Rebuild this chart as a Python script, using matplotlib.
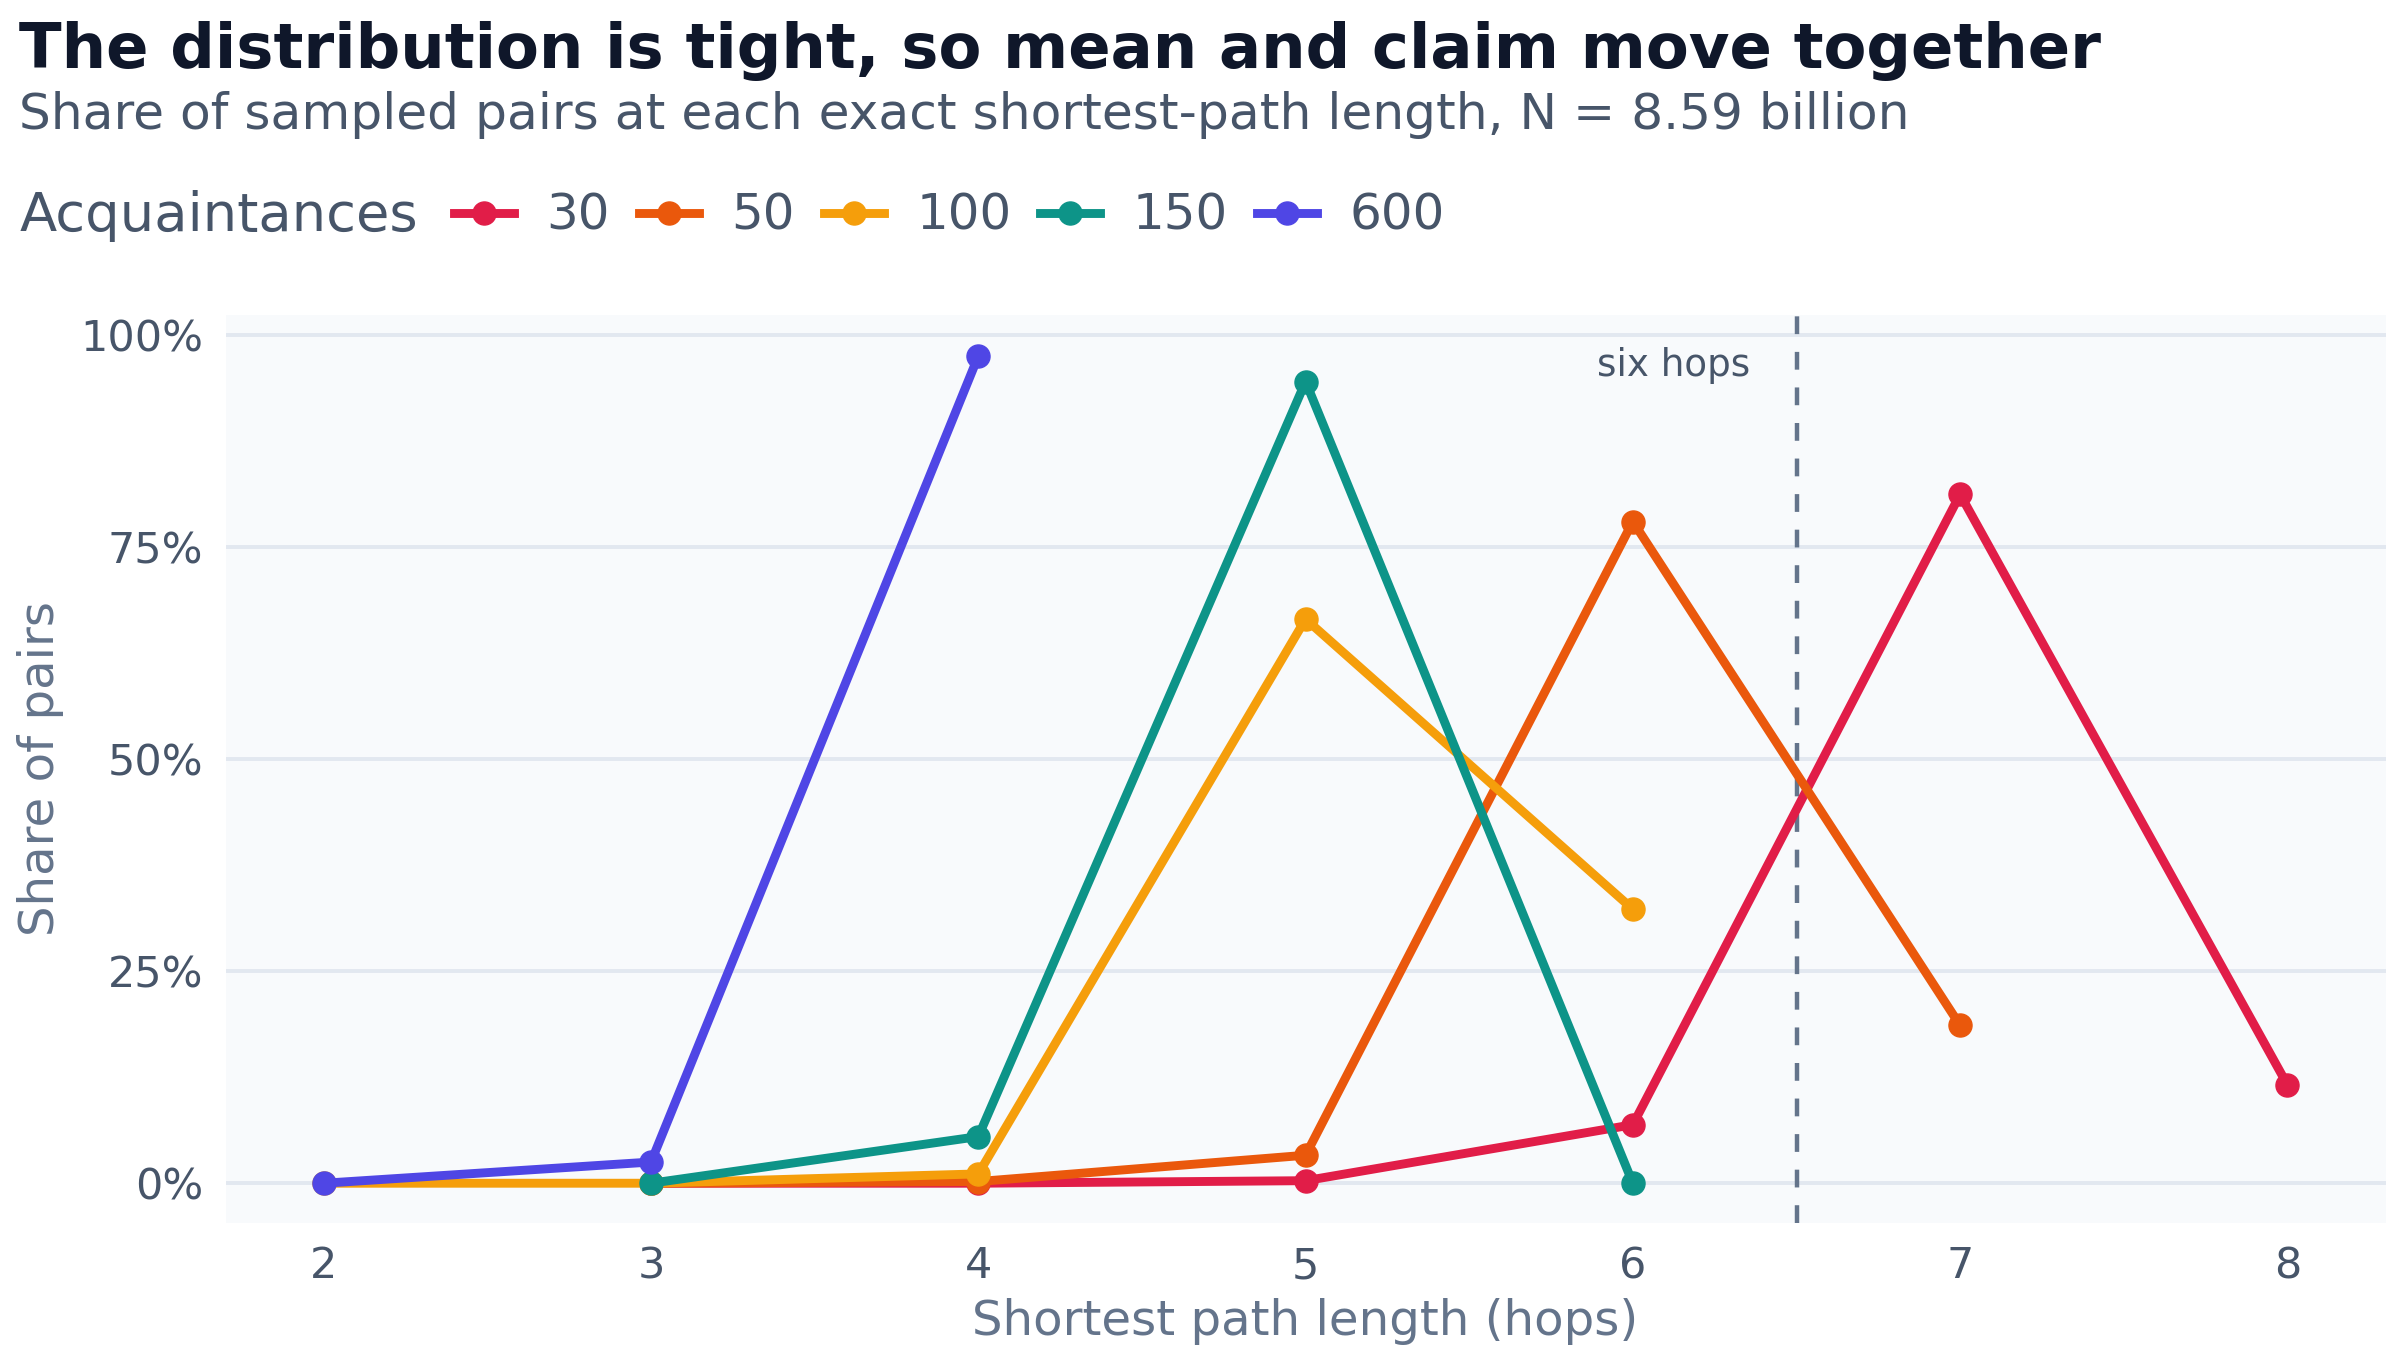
import matplotlib
matplotlib.use("Agg")
import matplotlib.pyplot as plt
from matplotlib.ticker import FuncFormatter

# hops on the x axis, share of pairs (%) per acquaintance count
hops_30 = [3, 4, 5, 6, 7, 8]
share_30 = [0.0, 0.0, 0.3, 6.9, 81.2, 11.6]
hops_50 = [3, 4, 5, 6, 7]
share_50 = [0.0, 0.2, 3.3, 78.0, 18.6]
hops_100 = [2, 3, 4, 5, 6]
share_100 = [0.0, 0.0, 1.1, 66.5, 32.3]
hops_150 = [3, 4, 5, 6]
share_150 = [0.0, 5.5, 94.5, 0.0]
hops_600 = [2, 3, 4]
share_600 = [0.0, 2.5, 97.5]

labels = ["30", "50", "100", "150", "600"]
colors = ["#e11d48", "#ea580c", "#f59e0b", "#0d9488", "#4f46e5"]
series = [(hops_30, share_30), (hops_50, share_50), (hops_100, share_100),
          (hops_150, share_150), (hops_600, share_600)]

fig = plt.figure(figsize=(12, 6.75), dpi=200)
ax = fig.add_axes([0.094, 0.094, 0.9, 0.673])
ax.set_facecolor("#f8fafc")

handles = []
for (x, y), lab, c in zip(series, labels, colors):
    h, = ax.plot(x, y, color=c, lw=3.2, marker="o", ms=8.3, mew=0.5, label=lab, zorder=3)
    handles.append(h)

ax.axvline(6.5, color="#64748b", lw=1.6, ls=(0, (4, 4)), zorder=2)
ax.text(6.36, 96.4, "six hops", ha="right", va="center", fontsize=13.4, color="#475569")

ax.set_xlim(1.7, 8.3)
ax.set_ylim(-4.7, 102.4)
ax.set_xticks(range(2, 9))
ax.set_yticks([0, 25, 50, 75, 100])
ax.yaxis.set_major_formatter(FuncFormatter(lambda v, p: f"{v:.0f}%"))
ax.grid(axis="y", color="#e2e8f0", lw=1.4, zorder=0)
ax.set_axisbelow(True)
for s in ax.spines.values():
    s.set_visible(False)
ax.tick_params(length=0, labelsize=15.5, labelcolor="#475569", pad=8)
ax.set_xlabel("Shortest path length (hops)", fontsize=17.4, color="#64748b", labelpad=4)
ax.set_ylabel("Share of pairs", fontsize=17.4, color="#64748b", labelpad=6)

fig.text(0.008, 0.962, "The distribution is tight, so mean and claim move together",
         fontsize=22.5, fontweight="bold", color="#0f172a", va="center")
fig.text(0.008, 0.915, "Share of sampled pairs at each exact shortest-path length, N = 8.59 billion",
         fontsize=18.1, color="#475569", va="center")
fig.text(0.008, 0.84, "Acquaintances", fontsize=19.6, color="#475569", va="center")
fig.legend(handles=handles, loc="center left", bbox_to_anchor=(0.189, 0.84), ncol=5,
           frameon=False, fontsize=18, labelcolor="#475569", handlelength=1.2,
           handletextpad=0.65, columnspacing=0.58, borderaxespad=0, borderpad=0)

fig.savefig("out.png", dpi=200, facecolor="white")
